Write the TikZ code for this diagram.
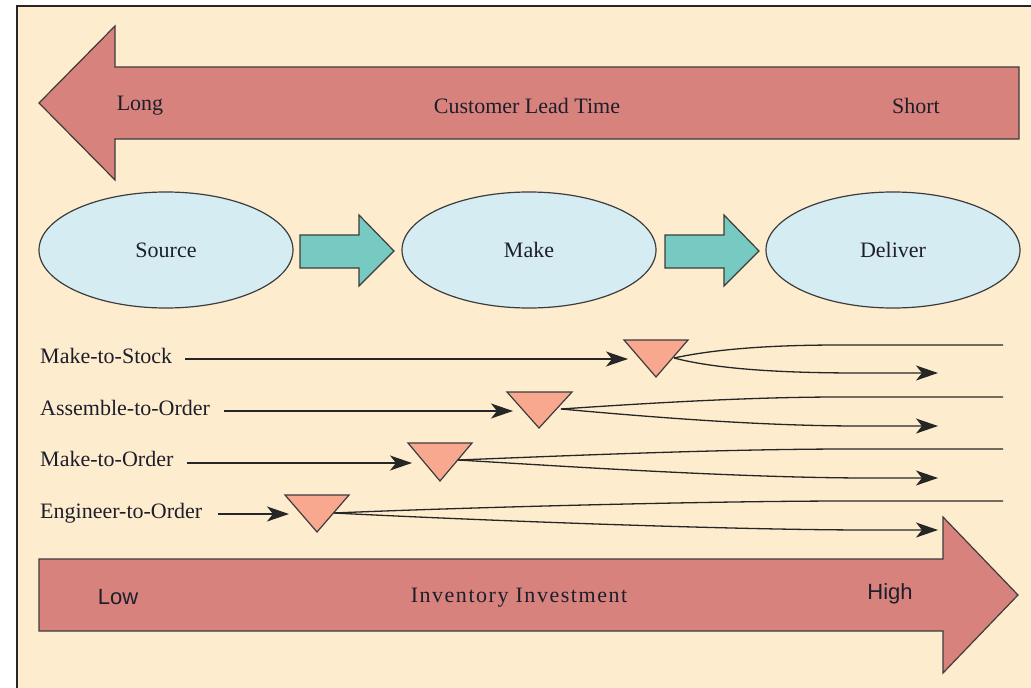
\documentclass[tikz,border=0pt]{standalone}
\usepackage{fontspec}
\setmainfont{Liberation Serif}
\newfontfamily\arialfont{Liberation Sans}
\newfontfamily\wideserif[LetterSpace=7]{Liberation Serif}
\usetikzlibrary{arrows.meta,shapes.geometric}
\definecolor{bgc}{HTML}{FEECCF}
\definecolor{bigred}{HTML}{D8827E}
\definecolor{trif}{HTML}{F8A88F}
\definecolor{ellf}{HTML}{D5EDF2}
\definecolor{tealf}{HTML}{76CAC1}
\definecolor{edge}{HTML}{3C3C3C}
\definecolor{linec}{HTML}{262626}
\definecolor{txt}{HTML}{1E1E2A}
\tikzset{
  bigarrow/.style={fill=bigred, draw=edge, line width=1.2pt, line join=miter},
  smallarrow/.style={fill=tealf, draw=edge, line width=1.2pt},
  stage/.style={ellipse, fill=ellf, draw=edge, line width=1.2pt, minimum width=254pt, minimum height=116pt, inner sep=0pt, text=txt},
  tri/.style={fill=trif, draw=edge, line width=1.2pt, line join=miter},
  lbl/.style={anchor=base west, inner sep=0pt, text=txt},
  tip/.tip={Stealth[length=22pt,width=15pt,inset=6pt]},
  conn/.style={draw=linec, line width=1.4pt, -tip},
  fan/.style={draw=linec, line width=1.3pt},
  fanarr/.style={draw=linec, line width=1.3pt, -tip},
  bigtxt/.style={inner sep=0pt, text=txt}
}
\begin{document}
\begin{tikzpicture}[x=1pt,y=-1pt,font=\fontsize{22}{26}\selectfont]
\useasboundingbox (0,0) rectangle (1031,688);
\clip (0,0) rectangle (1031,688);
\fill[white] (0,0) rectangle (1031,688);
\draw[fill=bgc, draw=black!85, line width=1.6pt] (17,6) rectangle (1045,700);

% top arrow: Customer Lead Time
\draw[bigarrow] (39,103) -- (115,26) -- (115,67) -- (1019,67) -- (1019,139) -- (115,139) -- (115,180) -- cycle;
\node[bigtxt] (long) at (140,106) {Long};
\node[bigtxt] (clt) at (527,106) {Customer Lead Time};
\node[bigtxt] (short) at (916,106) {Short};

% stages
\node[stage] (source) at (166,250) {Source};
\node[stage] (make) at (529,250) {Make};
\node[stage] (deliver) at (893,250) {Deliver};
\draw[smallarrow] (300,235) -- (359,235) -- (359,215) -- (394,251) -- (359,286) -- (359,268) -- (300,268) -- cycle;
\draw[smallarrow] (665,235) -- (724,235) -- (724,215) -- (759,251) -- (724,286) -- (724,268) -- (665,268) -- cycle;

% row labels
\node[lbl] (l1) at (40,363) {Make-to-Stock};
\node[lbl] (l2) at (40,415) {Assemble-to-Order};
\node[lbl] (l3) at (40,466) {Make-to-Order};
\node[lbl] (l4) at (40,518) {Engineer-to-Order};

% decoupling triangles
\draw[tri] (624,340) -- (688,340) -- (656,377) -- cycle;
\draw[tri] (507,392) -- (572,392) -- (539,428) -- cycle;
\draw[tri] (408,443) -- (472,443) -- (440,481) -- cycle;
\draw[tri] (285,495) -- (349,495) -- (317,532) -- cycle;

\coordinate (e1) at (628,359);
\coordinate (e2) at (513,411);
\coordinate (e3) at (412,463);
\coordinate (e4) at (289,514);
\coordinate (s1) at (674,358);
\coordinate (s2) at (561,409);
\coordinate (s3) at (458,460);
\coordinate (s4) at (334,513);
\coordinate (u1) at (1003,345);
\coordinate (u2) at (1003,397);
\coordinate (u3) at (1003,449);
\coordinate (u4) at (1003,501);
\coordinate (d1) at (938,373);
\coordinate (d2) at (938,426);
\coordinate (d3) at (938,478);
\coordinate (d4) at (938,530);

\draw[conn] (l1.base east) ++(13,-4) -- (e1);
\draw[conn] (l2.base east) ++(14,-4) -- (e2);
\draw[conn] (l3.base east) ++(13,-3) -- (e3);
\draw[conn] (l4.base east) ++(16,-4) -- (e4);

\draw[fan] (s1) .. controls (720,348) and (780,345) .. (840,345) -- (u1);
\draw[fanarr] (s1) .. controls (720,370) and (790,373) .. (860,373) -- (d1);
\draw[fan] (s2) .. controls (650,403) and (750,397) .. (840,397) -- (u2);
\draw[fanarr] (s2) .. controls (650,417) and (760,426) .. (860,426) -- (d2);
\draw[fan] (s3) .. controls (560,456) and (720,449) .. (850,449) -- (u3);
\draw[fanarr] (s3) .. controls (560,466) and (740,478) .. (870,478) -- (d3);
\draw[fan] (s4) .. controls (450,508) and (700,501) .. (850,501) -- (u4);
\draw[fanarr] (s4) .. controls (450,519) and (720,530) .. (870,530) -- (d4);

% bottom arrow: Inventory Investment
\draw[bigarrow] (39,559) -- (943,559) -- (943,517) -- (1018,595) -- (943,673) -- (943,631) -- (39,631) -- cycle;
\node[bigtxt, font=\arialfont\fontsize{22}{26}\selectfont] (low) at (118,597) {Low};
\node[bigtxt, font=\wideserif\fontsize{22}{26}\selectfont] (inv) at (519,598) {Inventory Investment};
\node[bigtxt, font=\arialfont\fontsize{22}{26}\selectfont] (high) at (890,594) {High};
\end{tikzpicture}
\end{document}
